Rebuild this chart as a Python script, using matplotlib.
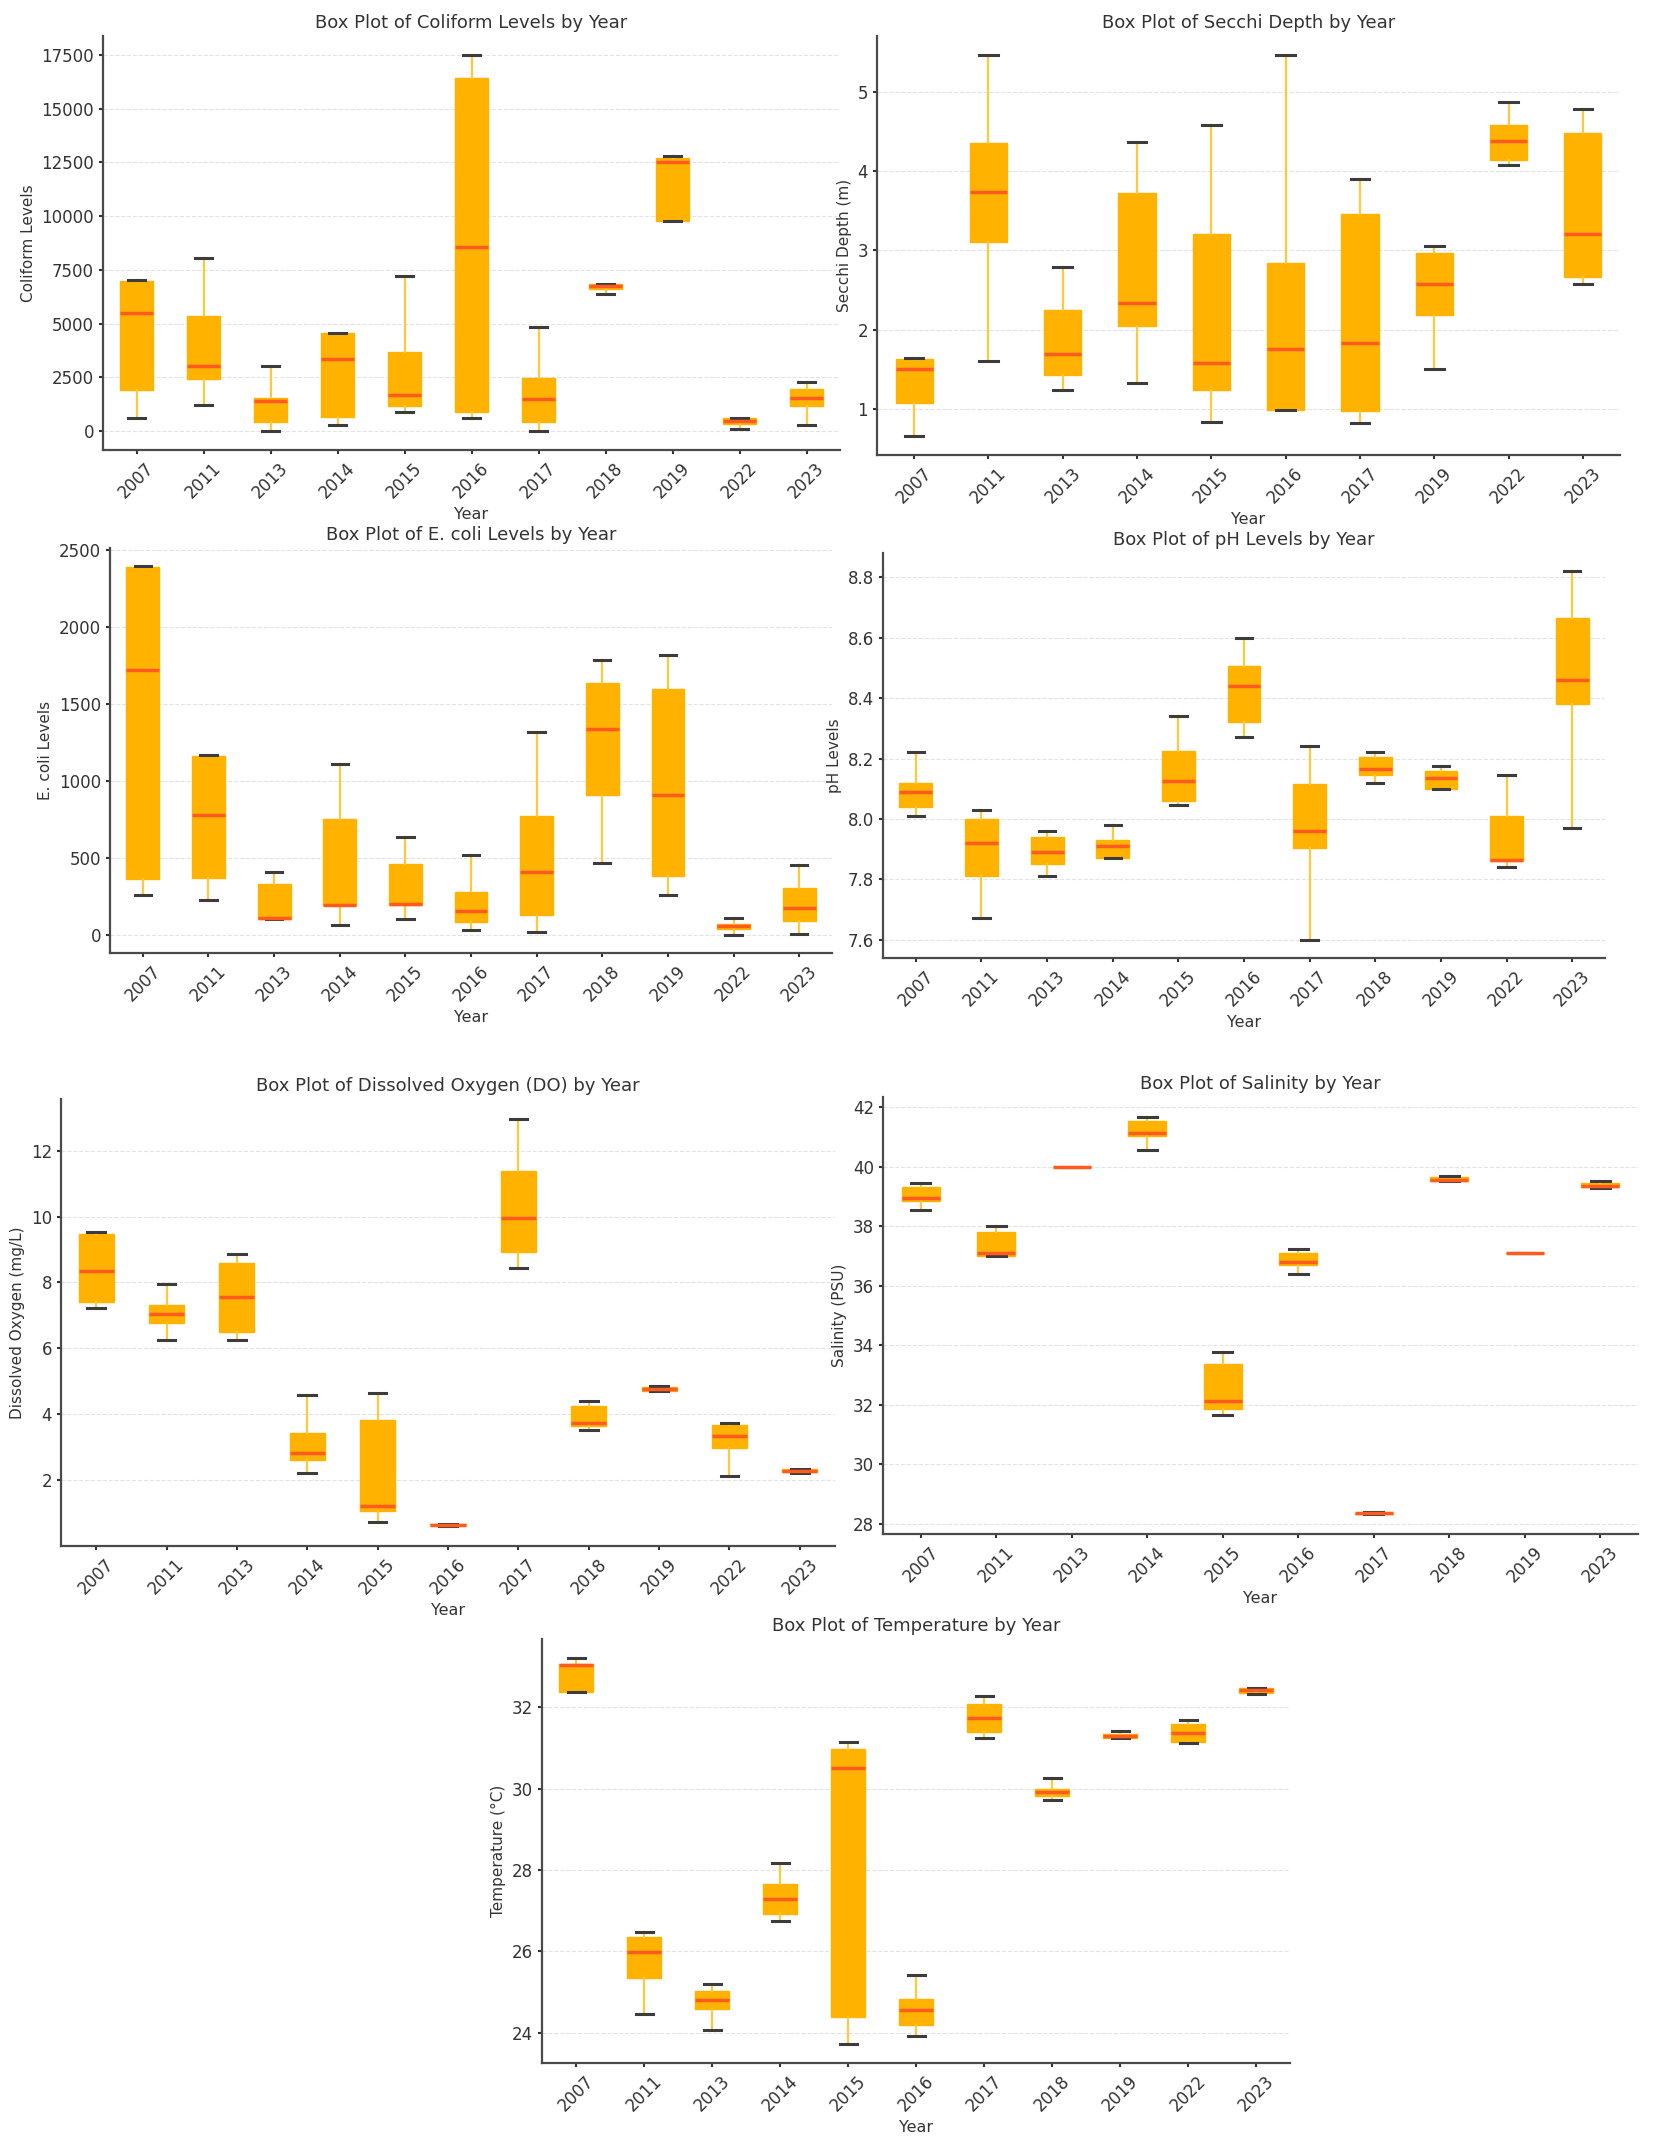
import matplotlib.pyplot as plt

# figure size in pixels (dpi 100)
W, H = 1654, 2143

YEARS = ["2007", "2011", "2013", "2014", "2015", "2016", "2017", "2018", "2019", "2022", "2023"]
YEARS_SECCHI = ["2007", "2011", "2013", "2014", "2015", "2016", "2017", "2019", "2022", "2023"]
YEARS_SALINITY = ["2007", "2011", "2013", "2014", "2015", "2016", "2017", "2018", "2019", "2023"]

# each entry: (lower whisker, q1, median, q3, upper whisker)
coliform = [
    (600, 1900, 5500, 7000, 7050),
    (1200, 2420, 3040, 5370, 8070),
    (0, 420, 1390, 1540, 3040),
    (310, 660, 3360, 4550, 4580),
    (900, 1160, 1670, 3700, 7200),
    (590, 880, 8560, 16400, 17500),
    (30, 430, 1510, 2470, 4860),
    (6400, 6630, 6760, 6830, 6860),
    (9750, 9750, 12520, 12680, 12800),
    (120, 340, 460, 590, 600),
    (310, 1160, 1540, 1970, 2280),
]
secchi = [
    (0.66, 1.08, 1.50, 1.63, 1.64),
    (1.61, 3.10, 3.73, 4.35, 5.46),
    (1.24, 1.43, 1.69, 2.25, 2.79),
    (1.33, 2.04, 2.33, 3.72, 4.36),
    (0.83, 1.24, 1.58, 3.20, 4.58),
    (0.99, 0.99, 1.75, 2.84, 5.46),
    (0.82, 0.98, 1.83, 3.46, 3.90),
    (1.50, 2.19, 2.58, 2.97, 3.06),
    (4.07, 4.14, 4.38, 4.58, 4.87),
    (2.57, 2.66, 3.21, 4.48, 4.78),
]
ecoli = [
    (260, 360, 1720, 2390, 2395),
    (225, 365, 775, 1160, 1165),
    (100, 100, 105, 330, 410),
    (65, 190, 195, 755, 1110),
    (100, 195, 197, 460, 635),
    (30, 80, 155, 280, 515),
    (20, 125, 410, 770, 1315),
    (465, 910, 1335, 1635, 1785),
    (260, 380, 905, 1595, 1820),
    (0, 35, 55, 72, 108),
    (2, 90, 175, 305, 450),
]
ph = [
    (8.01, 8.04, 8.09, 8.12, 8.22),
    (7.67, 7.81, 7.92, 8.00, 8.03),
    (7.81, 7.85, 7.89, 7.94, 7.96),
    (7.87, 7.87, 7.91, 7.93, 7.98),
    (8.045, 8.06, 8.125, 8.225, 8.34),
    (8.27, 8.32, 8.44, 8.505, 8.60),
    (7.60, 7.905, 7.96, 8.115, 8.24),
    (8.12, 8.145, 8.165, 8.205, 8.22),
    (8.10, 8.10, 8.135, 8.16, 8.175),
    (7.84, 7.86, 7.865, 8.01, 8.145),
    (7.97, 8.38, 8.46, 8.665, 8.82),
]
oxygen = [
    (7.23, 7.42, 8.35, 9.48, 9.54),
    (6.25, 6.77, 7.04, 7.31, 7.94),
    (6.25, 6.50, 7.55, 8.59, 8.85),
    (2.22, 2.60, 2.84, 3.43, 4.60),
    (0.73, 1.08, 1.22, 3.84, 4.64),
    (0.62, 0.63, 0.65, 0.66, 0.67),
    (8.45, 8.92, 9.97, 11.38, 12.95),
    (3.52, 3.65, 3.74, 4.26, 4.39),
    (4.71, 4.71, 4.77, 4.84, 4.85),
    (2.13, 2.98, 3.33, 3.68, 3.74),
    (2.22, 2.24, 2.29, 2.34, 2.35),
]
salinity = [
    (38.55, 38.85, 38.97, 39.33, 39.45),
    (36.99, 36.99, 37.11, 37.81, 38.01),
    (40.00, 40.00, 40.00, 40.00, 40.00),
    (40.56, 41.05, 41.14, 41.53, 41.68),
    (31.67, 31.85, 32.12, 33.36, 33.77),
    (36.39, 36.69, 36.81, 37.11, 37.23),
    (28.33, 28.34, 28.36, 28.38, 28.40),
    (39.51, 39.51, 39.57, 39.66, 39.69),
    (37.10, 37.10, 37.11, 37.12, 37.12),
    (39.30, 39.31, 39.37, 39.45, 39.54),
]
temperature = [
    (32.37, 32.37, 33.05, 33.07, 33.21),
    (24.46, 25.34, 25.99, 26.35, 26.49),
    (24.06, 24.59, 24.80, 25.03, 25.20),
    (26.76, 26.93, 27.29, 27.66, 28.17),
    (23.73, 24.38, 30.51, 30.97, 31.16),
    (23.92, 24.18, 24.56, 24.84, 25.42),
    (31.25, 31.39, 31.75, 32.08, 32.29),
    (29.72, 29.82, 29.92, 29.99, 30.26),
    (31.25, 31.25, 31.29, 31.35, 31.43),
    (31.12, 31.16, 31.37, 31.60, 31.69),
    (32.32, 32.35, 32.42, 32.47, 32.48),
]

BOX = '#FFB300'
MEDIAN = '#FF5A1F'
WHISKER = '#FFC83D'
CAP = '#3c3c3c'
TEXT = '#333333'

plt.rcParams['font.family'] = ['DejaVu Sans']


def px_axes(fig, left, right, top, bottom):
    # axes rectangle given in pixel coordinates of the image
    return fig.add_axes([left / W, 1 - bottom / H, (right - left) / W, (bottom - top) / H])


def box_panel(ax, years, values, title, ylabel):
    stats = []
    for yr, (lo, q1, med, q3, hi) in zip(years, values):
        stats.append(dict(label=yr, whislo=lo, q1=q1, med=med, q3=q3, whishi=hi, fliers=[]))
    ax.bxp(stats, positions=range(1, len(stats) + 1), widths=0.5,
           patch_artist=True, showfliers=False,
           boxprops=dict(facecolor=BOX, edgecolor=BOX, linewidth=1),
           medianprops=dict(color=MEDIAN, linewidth=2.5),
           whiskerprops=dict(color=WHISKER, linewidth=1.6),
           capprops=dict(color=CAP, linewidth=2.2))
    ax.set_xlim(0.5, len(stats) + 0.5)
    ax.set_title(title, fontsize=13, color=TEXT, pad=6)
    ax.set_xlabel('Year', fontsize=11.5, color=TEXT)
    ax.set_ylabel(ylabel, fontsize=11, color=TEXT)
    ax.tick_params(axis='x', rotation=45, labelsize=12, colors=TEXT, length=3, width=1.5)
    ax.tick_params(axis='y', labelsize=12, colors=TEXT, length=3, width=1.5)
    ax.yaxis.grid(True, linestyle='--', color='#e3e3e3', linewidth=0.8)
    ax.set_axisbelow(True)
    for side in ['top', 'right']:
        ax.spines[side].set_visible(False)
    for side in ['left', 'bottom']:
        ax.spines[side].set_color('#4a4a4a')
        ax.spines[side].set_linewidth(1.6)


fig = plt.figure(figsize=(W / 100, H / 100), dpi=100)

ax1 = px_axes(fig, 103, 840, 36, 450)
box_panel(ax1, YEARS, coliform, 'Box Plot of Coliform Levels by Year', 'Coliform Levels')

ax2 = px_axes(fig, 877, 1620, 36, 455)
box_panel(ax2, YEARS_SECCHI, secchi, 'Box Plot of Secchi Depth by Year', 'Secchi Depth (m)')

ax3 = px_axes(fig, 110, 832, 548, 953)
box_panel(ax3, YEARS, ecoli, 'Box Plot of E. coli Levels by Year', 'E. coli Levels')

ax4 = px_axes(fig, 883, 1605, 553, 958)
box_panel(ax4, YEARS, ph, 'Box Plot of pH Levels by Year', 'pH Levels')

ax5 = px_axes(fig, 61, 835, 1099, 1546)
box_panel(ax5, YEARS, oxygen, 'Box Plot of Dissolved Oxygen (DO) by Year', 'Dissolved Oxygen (mg/L)')

ax6 = px_axes(fig, 883, 1638, 1097, 1534)
box_panel(ax6, YEARS_SALINITY, salinity, 'Box Plot of Salinity by Year', 'Salinity (PSU)')

ax7 = px_axes(fig, 542, 1290, 1639, 2063)
box_panel(ax7, YEARS, temperature, 'Box Plot of Temperature by Year', 'Temperature (°C)')

fig.savefig('out.png', dpi=100, facecolor='white')
